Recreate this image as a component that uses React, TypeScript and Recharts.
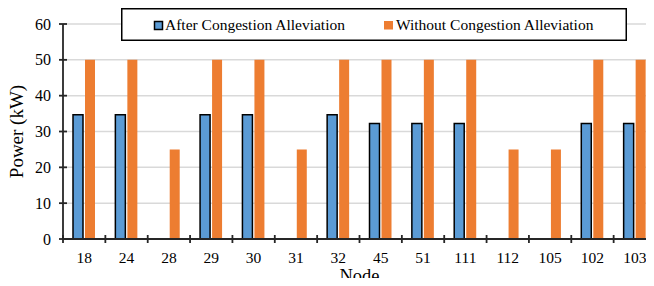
import { BarChart, Bar, XAxis, YAxis, CartesianGrid, Legend } from "recharts";

const nodes = ["18", "24", "28", "29", "30", "31", "32", "45", "51", "111", "112", "105", "102", "103"];
const afterAlleviation = [34.7, 34.7, null, 34.7, 34.7, null, 34.7, 32.2, 32.2, 32.2, null, null, 32.2, 32.2];
const withoutAlleviation = [50, 50, 25, 50, 50, 25, 50, 50, 50, 50, 25, 25, 50, 50];
const yTicks = [0, 10, 20, 30, 40, 50, 60];

const data = nodes.map((n, i) => ({
    node: n,
    after: afterAlleviation[i],
    without: withoutAlleviation[i],
}));

const W = 660;
const H = 286;
const YAXIS_W = 63;
const RIGHT = 4;
const BAND = (W - YAXIS_W - RIGHT) / nodes.length;
const FONT = "Liberation Serif";
const AXIS = "#262626";
const BLUE = "#5B9BD5";
const ORANGE = "#ED7D31";

const XTick = ({ x, y, payload, index }: any) => (
    <g>
        {index === 0 && <line x1={x - BAND / 2} x2={x - BAND / 2} y1={y - 4} y2={y + 4} stroke={AXIS} strokeWidth={1.8} />}
        <line x1={x + BAND / 2} x2={x + BAND / 2} y1={y - 4} y2={y + 4} stroke={AXIS} strokeWidth={1.8} />
        <text x={x} y={y + 23.8} textAnchor="middle" fontFamily={FONT} fontSize={15.5} fill="#000">
            {payload.value}
        </text>
    </g>
);

const YTick = ({ x, y, payload }: any) => (
    <g>
        <line x1={x - 4} x2={x + 4} y1={y} y2={y} stroke={AXIS} strokeWidth={1.8} />
        <text x={x - 12} y={y} dy="0.35em" textAnchor="end" fontFamily={FONT} fontSize={16} fill="#000">
            {payload.value}
        </text>
    </g>
);

const YTitle = ({ viewBox }: any) => {
    const cy = viewBox.y + viewBox.height / 2;
    return (
        <text x={0} y={0} transform={`translate(23,${cy}) rotate(-90)`} textAnchor="middle" fontFamily={FONT} fontSize={19} fill="#000">
            Power (kW)
        </text>
    );
};

const XTitle = ({ viewBox }: any) => (
    <text x={viewBox.x + viewBox.width / 2} y={viewBox.y + 43} textAnchor="middle" fontFamily={FONT} fontSize={18.5} fill="#000">
        Node
    </text>
);

const LegendBox = () => (
    <svg width={506} height={33} style={{ display: "block" }}>
        <rect x={0.75} y={0.75} width={504.5} height={31.5} fill="#fff" stroke="#000" strokeWidth={1.5} />
        <rect x={33.5} y={13.5} width={8} height={8} fill={BLUE} stroke="#000" strokeWidth={1.5} />
        <text x={44} y={21.5} fontFamily={FONT} fontSize={15.5} fill="#000">
            After Congestion Alleviation
        </text>
        <rect x={263} y={13} width={9} height={8.5} fill={ORANGE} />
        <text x={275} y={21.5} fontFamily={FONT} fontSize={15.5} fill="#000">
            Without Congestion Alleviation
        </text>
    </svg>
);

export default function App() {
    return (
        <div style={{ position: "relative", margin: -8, width: 654, height: 286, overflow: "hidden", background: "#fff", fontFamily: FONT }}>
            <BarChart
                width={W}
                height={H}
                data={data}
                margin={{ top: 24, right: RIGHT, left: 0, bottom: 0 }}
                barSize={10}
                barGap={2}
            >
                <CartesianGrid vertical={false} stroke="#d9d9d9" strokeWidth={1.5} />
                <XAxis
                    dataKey="node"
                    height={47}
                    tickSize={0}
                    tickMargin={0}
                    tickLine={false}
                    axisLine={{ stroke: AXIS, strokeWidth: 1.8 }}
                    tick={<XTick />}
                    interval={0}
                    label={<XTitle />}
                />
                <YAxis
                    width={YAXIS_W}
                    domain={[0, 60]}
                    ticks={yTicks}
                    tickSize={0}
                    tickMargin={0}
                    tickLine={false}
                    axisLine={{ stroke: AXIS, strokeWidth: 1.8 }}
                    tick={<YTick />}
                    label={<YTitle />}
                />
                <Legend
                    layout="horizontal"
                    verticalAlign="middle"
                    align="center"
                    wrapperStyle={{ left: 121, top: 8, width: 506, height: 33 }}
                    content={() => <LegendBox />}
                />
                <Bar dataKey="after" name="After Congestion Alleviation" fill={BLUE} stroke="#000" strokeWidth={1.5} isAnimationActive={false} />
                <Bar dataKey="without" name="Without Congestion Alleviation" fill={ORANGE} isAnimationActive={false} />
            </BarChart>
        </div>
    );
}
